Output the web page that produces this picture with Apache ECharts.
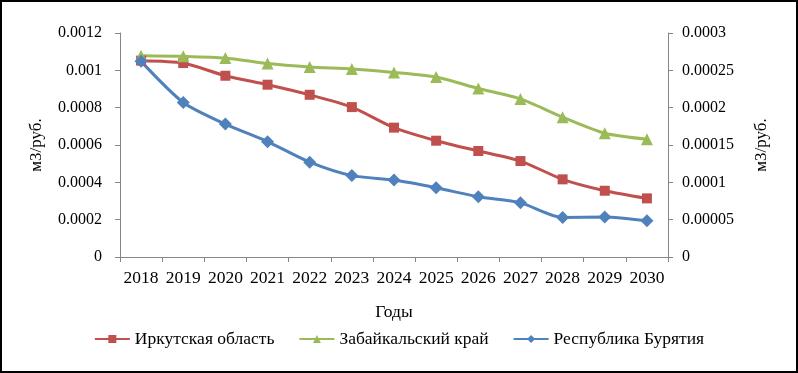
<!DOCTYPE html>
<html>
<head>
<meta charset="utf-8">
<script src="https://cdn.jsdelivr.net/npm/echarts@6/dist/echarts.min.js"></script>
<style>
  html, body { margin: 0; padding: 0; background: #fff; }
  #chart { width: 798px; height: 373px; box-sizing: border-box; border: 2px solid #000; }
</style>
</head>
<body>
<div id="chart"></div>
<script>
// данные
var years = ["2018", "2019", "2020", "2021", "2022", "2023", "2024", "2025", "2026", "2027", "2028", "2029", "2030"];
var irkutsk = [0.001052, 0.001039, 0.000971, 0.000923, 0.000869, 0.000803, 0.000693, 0.000623, 0.000568, 0.000514, 0.000416, 0.000355, 0.000314];
var zabaikal = [0.001078, 0.001075, 0.001066, 0.001036, 0.001018, 0.001007, 0.000989, 0.000964, 0.000903, 0.000847, 0.000749, 0.000663, 0.000631];
// правая ось
var buryatia = [0.000262, 0.000207, 0.000178, 0.0001545, 0.000127, 0.000109, 0.000103, 0.0000927, 0.0000806, 0.0000725, 0.0000529, 0.0000535, 0.0000484];

var font = "'Liberation Serif', 'Times New Roman', serif";
var chart = echarts.init(document.getElementById("chart"));

var axisCommon = {
  type: "value",
  axisLine: { show: true, lineStyle: { color: "#868686", width: 1 } },
  axisTick: { show: true, length: 5, lineStyle: { color: "#868686" } },
  splitLine: { show: false },
  nameLocation: "middle",
  nameRotate: 90,
  nameTextStyle: { color: "#000", fontFamily: font, fontSize: 17 }
};

function serie(name, data, color, symbol, size, axis) {
  return {
    name: name,
    type: "line",
    yAxisIndex: axis,
    data: data,
    smooth: 0.25,
    symbol: symbol,
    symbolSize: size,
    lineStyle: { color: color, width: 3 },
    itemStyle: { color: color },
    z: 3
  };
}

chart.setOption({
  animation: false,
  grid: { left: 118, right: 128, top: 31, bottom: 114 },
  legend: {
    top: 323,
    left: "center",
    itemWidth: 35,
    itemHeight: 10,
    itemGap: 24,
    textStyle: { color: "#000", fontFamily: font, fontSize: 17.5 },
    data: ["Иркутская область", "Забайкальский край", "Республика Бурятия"]
  },
  xAxis: {
    type: "category",
    data: years,
    name: "Годы",
    nameLocation: "middle",
    nameGap: 46,
    nameTextStyle: { color: "#000", fontFamily: font, fontSize: 17.5 },
    axisLine: { lineStyle: { color: "#868686" } },
    axisTick: { show: true, length: 5, interval: 0, lineStyle: { color: "#868686" } },
    axisLabel: { color: "#000", fontFamily: font, fontSize: 17.5, margin: 12, interval: 0 }
  },
  yAxis: [
    Object.assign({}, axisCommon, {
      position: "left",
      min: 0, max: 0.0012, interval: 0.0002,
      name: "м3/руб.",
      nameGap: 75,
      axisLabel: { color: "#000", fontFamily: font, fontSize: 16, margin: 18 }
    }),
    Object.assign({}, axisCommon, {
      position: "right",
      min: 0, max: 0.0003, interval: 0.00005,
      name: "м3/руб.",
      nameGap: 85,
      axisLabel: { color: "#000", fontFamily: font, fontSize: 16, margin: 14 }
    })
  ],
  series: [
    serie("Иркутская область", irkutsk, "#C0504D", "rect", 10, 0),
    serie("Забайкальский край", zabaikal, "#9BBB59", "triangle", 12, 0),
    serie("Республика Бурятия", buryatia, "#4F81BD", "diamond", 13, 1)
  ]
});
</script>
</body>
</html>
